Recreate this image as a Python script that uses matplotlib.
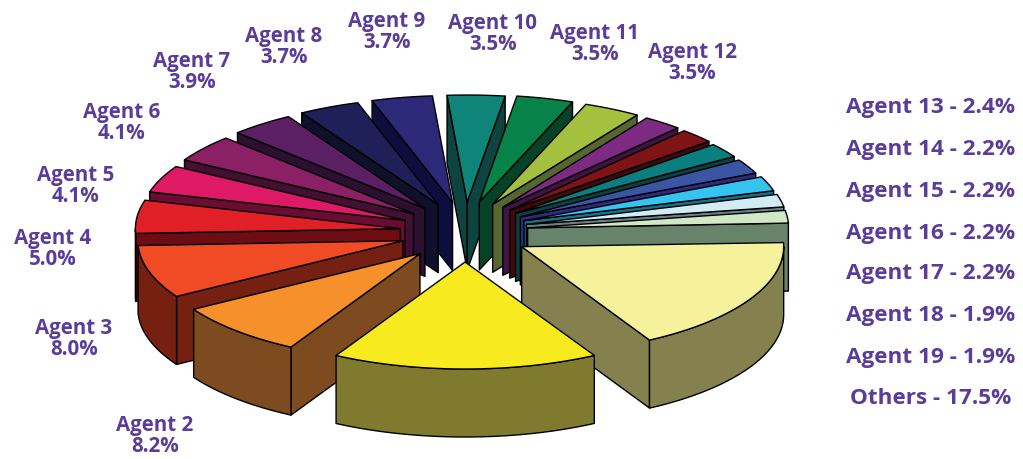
import numpy as np
import matplotlib
matplotlib.use("Agg")
import matplotlib.pyplot as plt
from matplotlib.patches import Polygon

# ---- data (clockwise from the east edge of the pie) ----
names = ["Others"] + [f"Agent {i}" for i in range(1, 20)]
shares = [17.5, 16.2, 8.2, 8.0, 5.0, 4.1, 4.1, 3.9, 3.7, 3.7, 3.5,
          3.5, 3.5, 2.4, 2.2, 2.2, 2.2, 2.2, 1.9, 1.9]
top_colors = ["#F6F29C", "#F7EA1E", "#F6902A", "#F04B24", "#E11F26", "#DE1A66",
              "#8C2064", "#5B2063", "#1F2058", "#2C2A78", "#0F8478", "#07834A",
              "#A3C03F", "#7D2A83", "#7E1416", "#0B7F80", "#3B55A5", "#35C3F0",
              "#D2ECF3", "#D0E8C6"]
wall_colors = ["#85814F", "#807A2F", "#7E4A20", "#762012", "#6E0C13", "#6B0C33",
               "#430F32", "#2C1031", "#0F102C", "#0E0E3E", "#0E443F", "#044325",
               "#556631", "#3F1442", "#3F0A0B", "#0A4140", "#2E2A80", "#1A6F8A",
               "#6A8088", "#67836A"]

# ---- layout ----
CX, CY = 465, 232        # pie centre
RX, RY = 265, 107        # ellipse of each slice
EX, EY = 65, 30          # explode offset
DEPTH = 68
START = -2.2
TXT = "#5A3D9A"
# the small right-hand slices sit a little tighter in the original
rim_trim = {"Agent 11": 3, "Agent 12": 3, "Agent 13": 4, "Agent 14": 5, "Agent 15": 7,
            "Agent 16": 7, "Agent 17": 5, "Agent 18": 4, "Agent 19": 4}
others_trim = 3

plt.rcParams["font.family"] = ["Open Sans", "DejaVu Sans"]
fig = plt.figure(figsize=(10.23, 4.59), dpi=100)
ax = fig.add_axes([0, 0, 1, 1])
ax.set_xlim(0, 1023)
ax.set_ylim(459, 0)
ax.axis("off")

angles = START + np.cumsum([0] + shares) * 3.6
slices = []
for i in range(len(shares)):
    a, b = angles[i], angles[i + 1]
    slices.append((np.sin(np.radians((a + b) / 2)), i, a, b))


def arc(tx, ty, rx, a, b, dy=0):
    t = np.radians(np.linspace(a, b, 60))
    return np.column_stack([tx + rx * np.cos(t), ty + RY * np.sin(t) + dy])


def poly(pts, color):
    ax.add_patch(Polygon(pts, closed=True, facecolor=color, edgecolor="black",
                         linewidth=1.0, joinstyle="round"))


for _, i, a, b in sorted(slices):
    m = np.radians((a + b) / 2)
    tx, ty = CX + EX * np.cos(m), CY + EY * np.sin(m)
    rx = RX
    if names[i] in rim_trim:
        rx = RX - rim_trim[names[i]]
        tx, ty = tx - 2, ty - 1
    elif names[i] == "Others":
        rx = RX - others_trim
    wall = wall_colors[i]
    # radial walls facing the viewer
    for edge, visible in ((a, np.cos(np.radians(a)) < 0), (b, np.cos(np.radians(b)) > 0)):
        if visible:
            r = np.radians(edge)
            ox, oy = tx + rx * np.cos(r), ty + RY * np.sin(r)
            poly([(tx, ty), (ox, oy), (ox, oy + DEPTH), (tx, ty + DEPTH)], wall)
    # outer wall (front half of the rim only)
    lo, hi = max(a, 0), min(b, 180)
    if hi > lo:
        poly(np.vstack([arc(tx, ty, rx, lo, hi), arc(tx, ty, rx, hi, lo, DEPTH)]), wall)
    # top face
    poly(np.vstack([[(tx, ty)], arc(tx, ty, rx, a, b)]), top_colors[i])

# ---- labels ----
two_line_xy = {"Agent 2": (155, 436), "Agent 3": (74, 339), "Agent 4": (53, 249),
               "Agent 5": (76, 186), "Agent 6": (122, 123), "Agent 7": (192, 72),
               "Agent 8": (284, 47), "Agent 9": (387, 32), "Agent 10": (493, 34),
               "Agent 11": (595, 44), "Agent 12": (692, 63)}
one_line_y = {"Agent 13": 108, "Agent 14": 150, "Agent 15": 191, "Agent 16": 233,
              "Agent 17": 274, "Agent 18": 316, "Agent 19": 357, "Others": 398}
style = dict(color=TXT, fontweight="bold", ha="center", va="center")
for name, share in zip(names, shares):
    if name in two_line_xy:
        x, y = two_line_xy[name]
        ax.text(x, y, f"{name}\n{share:.1f}%", linespacing=1.0, fontsize=14.8, **style)
    elif name in one_line_y:
        ax.text(931, one_line_y[name], f"{name} - {share:.1f}%", fontsize=16.2, **style)

fig.savefig("out.png", dpi=100)
